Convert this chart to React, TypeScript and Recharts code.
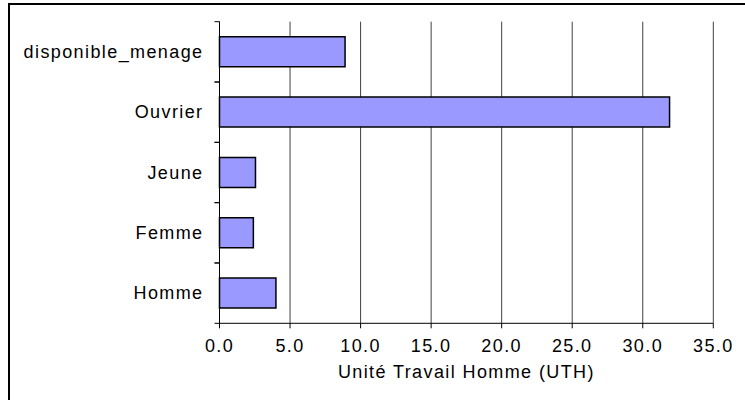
import { Bar, BarChart, CartesianGrid, XAxis, YAxis } from "recharts";

// categories, top to bottom as in the picture
const CATEGORIES = ["disponible_menage", "Ouvrier", "Jeune", "Femme", "Homme"];
const UTH = [8.9, 31.9, 2.55, 2.4, 4.0];
const X_TICKS = [0, 5, 10, 15, 20, 25, 30, 35];

const data = CATEGORIES.map((name, i) => ({ name, uth: UTH[i] }));

const FONT = "'Liberation Sans', Arial, sans-serif";
const TICK_GAP = 16;

// category label plus tick marks on the band edges (Excel style)
function CategoryTick(props: any) {
  const { x, y, payload } = props;
  const half = payload?.offset ?? 0;
  const axisX = x + TICK_GAP;
  return (
    <g>
      <line x1={axisX - 5} x2={axisX} y1={y - half} y2={y - half} stroke="#000" />
      <line x1={axisX - 5} x2={axisX} y1={y + half} y2={y + half} stroke="#000" />
      <text x={x} y={y} dy="0.35em" textAnchor="end" fontSize={18} fill="#000">
        {payload.value}
      </text>
    </g>
  );
}

export default function App() {
  return (
    <div style={{ position: "fixed", left: 0, top: 0, width: 745, height: 400, overflow: "hidden", background: "#fff" }}>
      <div
        style={{
          position: "absolute",
          left: 8,
          top: 3,
          width: 800,
          height: 450,
          borderLeft: "2px solid #000",
          borderTop: "2px solid #000",
        }}
      />
      <div style={{ position: "absolute", left: 0, top: 0, fontFamily: FONT, letterSpacing: 1.4 }}>
        <BarChart
          width={745}
          height={400}
          data={data}
          layout="vertical"
          barCategoryGap="25%"
          margin={{ top: 21.7, right: 31.7, bottom: 16.7, left: 19.5 }}
        >
          <CartesianGrid horizontal={false} vertical stroke="#404040" strokeWidth={1} />
          <YAxis
            type="category"
            dataKey="name"
            width={200}
            tickLine={false}
            axisLine={{ stroke: "#000" }}
            tickSize={0}
            tickMargin={TICK_GAP}
            tick={<CategoryTick />}
          />
          <XAxis
            type="number"
            domain={[0, 35]}
            ticks={X_TICKS}
            height={60}
            tickSize={5}
            tickMargin={11}
            tickLine={{ stroke: "#000" }}
            axisLine={{ stroke: "#000" }}
            tick={{ fontSize: 18, fill: "#000" }}
            tickFormatter={(v) => Number(v).toFixed(1)}
            label={{ value: "Unité Travail Homme (UTH)", position: "insideBottom", offset: 5, fontSize: 18, fill: "#000" }}
          />
          <Bar dataKey="uth" fill="#9999FF" stroke="#000" strokeWidth={1.5} isAnimationActive={false} />
        </BarChart>
      </div>
    </div>
  );
}
